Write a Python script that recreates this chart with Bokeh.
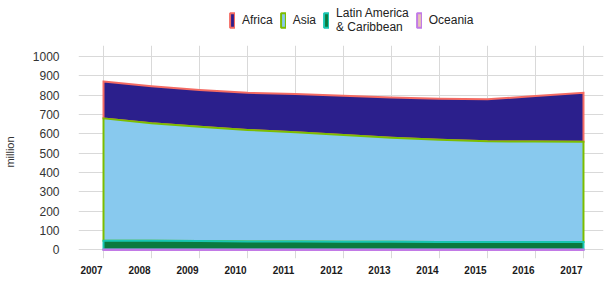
import numpy as np
from bokeh.plotting import figure
from bokeh.layouts import column
from bokeh.models import Range1d, FixedTicker, Legend, LegendItem
from bokeh.embed import file_html
from bokeh.resources import INLINE

years = [2007, 2008, 2009, 2010, 2011, 2012, 2013, 2014, 2015, 2016, 2017]
oceania = [2.3, 2.3, 2.4, 2.4, 2.5, 2.5, 2.6, 2.6, 2.7, 2.7, 2.8]
latin_america = [46, 45, 44, 42, 41, 40, 40, 39, 39, 39, 39]
asia = [632, 608, 591, 576, 565, 552, 537, 528, 520, 519, 518]
africa = [190, 191, 190, 192, 198, 203, 209, 212, 217, 235, 253]
y_ticks = [0, 100, 200, 300, 400, 500, 600, 700, 800, 900, 1000]
year_labels = [str(y) for y in years]

series = [
    ("Oceania", oceania, "#e6c4b4", "#c27ae6"),
    ("Latin America\n& Caribbean", latin_america, "#0b7a3e", "#19c6b2"),
    ("Asia", asia, "#88c9ee", "#7cbd00"),
    ("Africa", africa, "#2b1f8c", "#f46b63"),
]

x = np.array(years, dtype=float)
bottom = np.zeros(len(years))
bands = []
for name, vals, fill, line in series:
    top = bottom + np.array(vals, dtype=float)
    xs = list(x) + list(x[::-1])
    ys = list(top) + list(bottom[::-1])
    bands.append((name, xs, ys, fill, line))
    bottom = top

# ---- main chart ----
p = figure(width=609, height=247, output_backend="svg", toolbar_location=None,
           x_range=Range1d(2006.479, 2017.417), y_range=Range1d(-44, 1057),
           min_border_left=78, min_border_right=6, min_border_top=11, min_border_bottom=23)
p.outline_line_color = None
p.background_fill_color = "white"

for name, xs, ys, fill, line in reversed(bands):
    p.patch(xs, ys, fill_color=fill, line_color=line, line_width=2, line_join="miter")

label_shift = 0.25
label_pos = [y - label_shift for y in years]
p.xaxis.ticker = FixedTicker(ticks=label_pos)
p.xaxis.major_label_overrides = {pos: lab for pos, lab in zip(label_pos, year_labels)}
p.xgrid.ticker = FixedTicker(ticks=years)
p.yaxis.ticker = FixedTicker(ticks=y_ticks)
for ax in (p.xaxis, p.yaxis):
    ax.axis_line_color = None
    ax.major_tick_line_color = None
    ax.minor_tick_line_color = None
p.xaxis.major_label_text_font = "Liberation Sans"
p.xaxis.major_label_text_font_size = "10px"
p.xaxis.major_label_text_font_style = "bold"
p.xaxis.major_label_text_color = "#1a1a1a"
p.xaxis.major_label_standoff = 1
p.yaxis.major_label_text_font = "Liberation Sans"
p.yaxis.major_label_text_font_size = "12px"
p.yaxis.major_label_text_color = "#333333"
p.yaxis.major_label_standoff = 13
p.yaxis.axis_label = "million"
p.yaxis.axis_label_text_font = "Liberation Sans"
p.yaxis.axis_label_text_font_size = "11px"
p.yaxis.axis_label_text_font_style = "normal"
p.yaxis.axis_label_text_color = "#333333"
p.yaxis.axis_label_standoff = 14
p.xgrid.grid_line_color = "#d9d9d9"
p.ygrid.grid_line_color = "#d9d9d9"

# ---- legend strip (same bands, drawn outside its visible range) ----
lg = figure(width=609, height=34, output_backend="svg", toolbar_location=None,
            x_range=Range1d(2006.479, 2017.417), y_range=Range1d(-3000, -2000),
            x_axis_type=None, y_axis_type=None,
            min_border_left=0, min_border_right=0, min_border_top=0, min_border_bottom=0)
lg.outline_line_color = None
lg.xgrid.visible = False
lg.ygrid.visible = False
items = []
for name, xs, ys, fill, line in reversed(bands):
    r = lg.patch(xs, ys, fill_color=fill, line_color=line, line_width=2)
    items.append(LegendItem(label=name, renderers=[r]))
legend = Legend(items=items, orientation="horizontal", location=(151, 0),
                glyph_width=6, glyph_height=18, label_standoff=7, spacing=7,
                padding=0, margin=0, border_line_color=None, background_fill_alpha=0,
                label_text_font="Liberation Sans", label_text_font_size="12px",
                label_text_color="#222222", label_text_line_height=0.8)
lg.add_layout(legend, "center")

layout = column(lg, p, spacing=0)
open("out.html", "w").write(file_html(layout, INLINE))
